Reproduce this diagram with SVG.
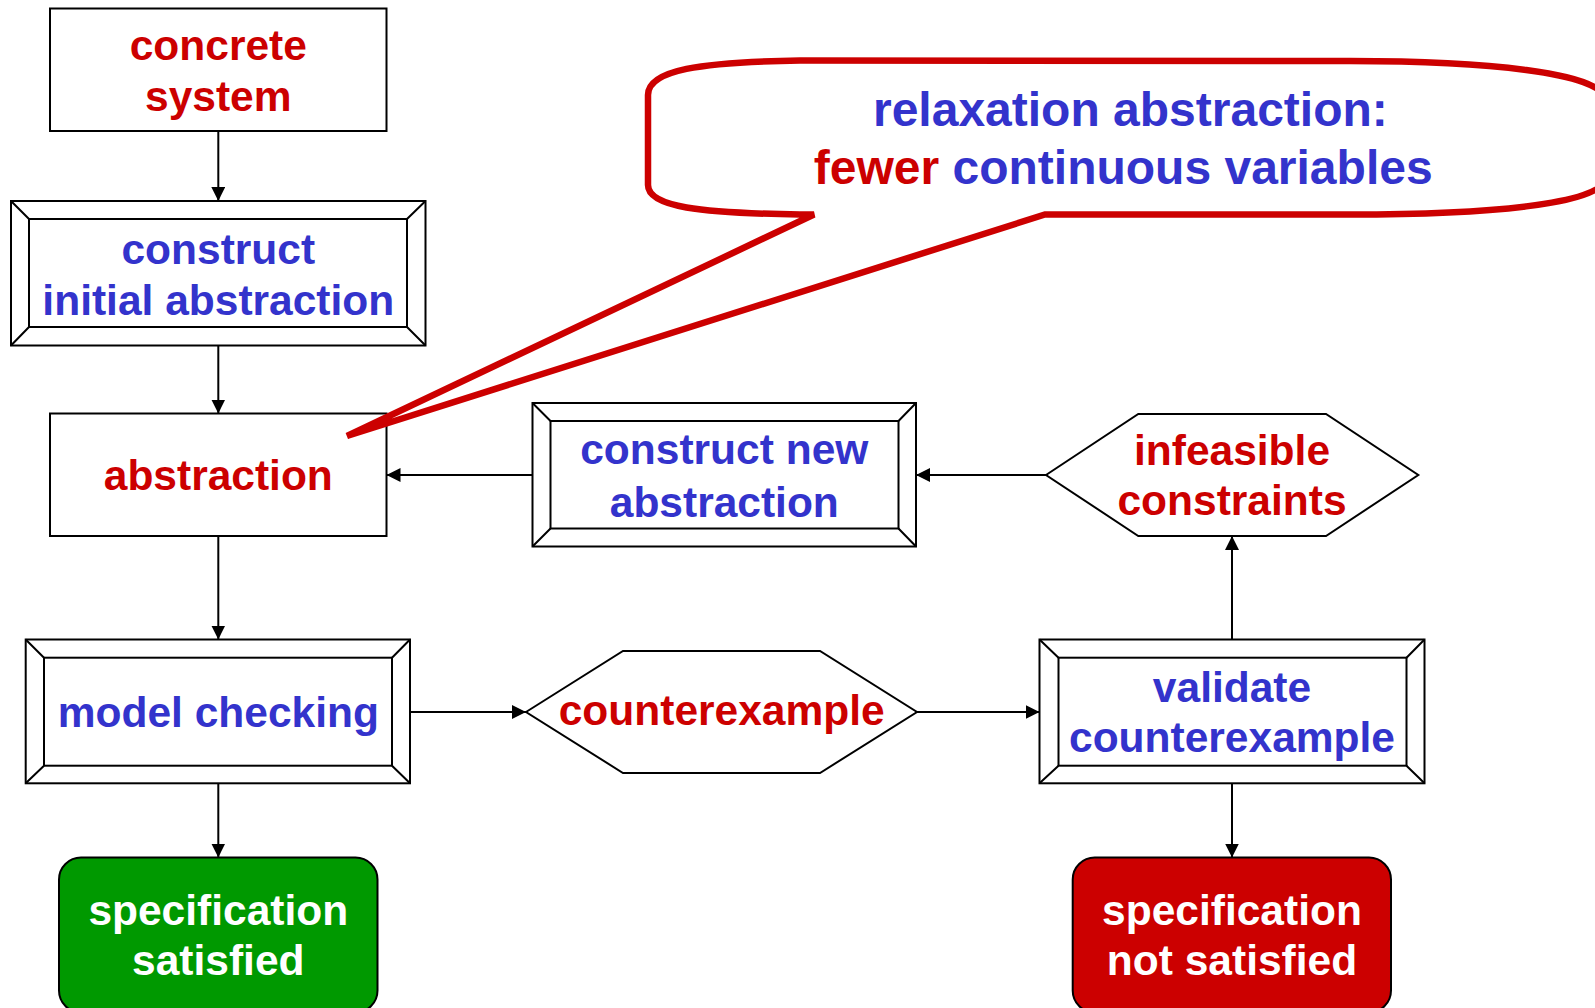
<svg xmlns="http://www.w3.org/2000/svg" width="1595" height="1008" viewBox="0 0 1595 1008">
  <defs>
    <marker id="arrow" viewBox="0 0 14 14" refX="14" refY="7" markerWidth="14" markerHeight="14" markerUnits="userSpaceOnUse" orient="auto">
      <path d="M0,0 L14,7 L0,14 Z" fill="#000"/>
    </marker>
  </defs>
  <style>
    .box { fill: #fff; stroke: #000; stroke-width: 2; }
    .bevel { fill: none; stroke: #000; stroke-width: 2; }
    .edge { fill: none; stroke: #000; stroke-width: 2; marker-end: url(#arrow); }
    .lbl { font-family: "Liberation Sans", Arial, sans-serif; font-weight: bold; font-size: 42.5px; text-anchor: middle; }
    .red { fill: #CC0000; }
    .blue { fill: #3333CC; }
    .white { fill: #fff; }
    .callout { fill: #fff; stroke: #CC0000; stroke-width: 6.5; stroke-linejoin: miter; stroke-miterlimit: 4; }
    .big { font-size: 48px; }
  </style>

  <rect width="1595" height="1008" fill="#fff"/>

  <!-- connectors -->
  <g id="connectors">
    <line class="edge" x1="218.3" y1="131" x2="218.3" y2="201"/>
    <line class="edge" x1="218.3" y1="345.5" x2="218.3" y2="413.5"/>
    <line class="edge" x1="218.3" y1="536" x2="218.3" y2="639.5"/>
    <line class="edge" x1="218.3" y1="783.3" x2="218.3" y2="857.5"/>
    <line class="edge" x1="532.5" y1="475" x2="386.5" y2="475"/>
    <line class="edge" x1="1046" y1="475" x2="916" y2="475"/>
    <line class="edge" x1="410" y1="712" x2="526" y2="712"/>
    <line class="edge" x1="917" y1="712" x2="1039.5" y2="712"/>
    <line class="edge" x1="1232" y1="639.5" x2="1232" y2="536"/>
    <line class="edge" x1="1232" y1="783.3" x2="1232" y2="857.5"/>
  </g>

  <!-- concrete system -->
  <g id="concrete-system">
    <rect class="box" x="50" y="8.5" width="336.5" height="122.5"/>
    <text class="lbl red" x="218.3" y="60">concrete</text>
    <text class="lbl red" x="218.3" y="110.5">system</text>
  </g>

  <!-- construct initial abstraction -->
  <g id="construct-initial">
    <rect class="box" x="11" y="201" width="414.5" height="144.5"/>
    <rect class="bevel" x="29" y="219" width="378" height="108"/>
    <path class="bevel" d="M11,201 L29,219 M425.5,201 L407,219 M11,345.5 L29,327 M425.5,345.5 L407,327"/>
    <text class="lbl blue" x="218.3" y="263.5">construct</text>
    <text class="lbl blue" x="218.3" y="314.5">initial abstraction</text>
  </g>

  <!-- abstraction -->
  <g id="abstraction">
    <rect class="box" x="50" y="413.5" width="336.5" height="122.5"/>
    <text class="lbl red" x="218.3" y="490">abstraction</text>
  </g>

  <!-- construct new abstraction -->
  <g id="construct-new">
    <rect class="box" x="532.5" y="403" width="383.5" height="143.5"/>
    <rect class="bevel" x="550.5" y="421" width="348" height="107.5"/>
    <path class="bevel" d="M532.5,403 L550.5,421 M916,403 L898.5,421 M532.5,546.5 L550.5,528.5 M916,546.5 L898.5,528.5"/>
    <text class="lbl blue" x="724.3" y="464">construct new</text>
    <text class="lbl blue" x="724.3" y="516.5">abstraction</text>
  </g>

  <!-- infeasible constraints -->
  <g id="infeasible-constraints">
    <polygon class="box" points="1046,475 1138.3,414 1326,414 1418.3,475 1326,536 1138.3,536"/>
    <text class="lbl red" x="1232" y="465">infeasible</text>
    <text class="lbl red" x="1232" y="515">constraints</text>
  </g>

  <!-- model checking -->
  <g id="model-checking">
    <rect class="box" x="25.7" y="639.5" width="384.3" height="143.8"/>
    <rect class="bevel" x="44" y="657.7" width="348" height="108"/>
    <path class="bevel" d="M25.7,639.5 L44,657.7 M410,639.5 L392,657.7 M25.7,783.3 L44,765.7 M410,783.3 L392,765.7"/>
    <text class="lbl blue" x="218.3" y="727">model checking</text>
  </g>

  <!-- counterexample -->
  <g id="counterexample">
    <polygon class="box" points="526,712 623,651 820,651 917,712 820,773 623,773"/>
    <text class="lbl red" x="721.7" y="725">counterexample</text>
  </g>

  <!-- validate counterexample -->
  <g id="validate-counterexample">
    <rect class="box" x="1039.5" y="639.5" width="385" height="143.8"/>
    <rect class="bevel" x="1058.5" y="657.7" width="348" height="108"/>
    <path class="bevel" d="M1039.5,639.5 L1058.5,657.7 M1424.5,639.5 L1406.5,657.7 M1039.5,783.3 L1058.5,765.7 M1424.5,783.3 L1406.5,765.7"/>
    <text class="lbl blue" x="1232" y="701.7">validate</text>
    <text class="lbl blue" x="1232" y="751.7">counterexample</text>
  </g>

  <!-- specification satisfied -->
  <g id="spec-satisfied">
    <rect x="59" y="857.5" width="318.5" height="155" rx="22" ry="22" fill="#009900" stroke="#000" stroke-width="2"/>
    <text class="lbl white" x="218.3" y="925">specification</text>
    <text class="lbl white" x="218.3" y="975">satisfied</text>
  </g>

  <!-- specification not satisfied -->
  <g id="spec-not-satisfied">
    <rect x="1072.7" y="857.5" width="318.3" height="155" rx="22" ry="22" fill="#CC0000" stroke="#000" stroke-width="2"/>
    <text class="lbl white" x="1232" y="925">specification</text>
    <text class="lbl white" x="1232" y="975">not satisfied</text>
  </g>

  <!-- callout pointing at the abstraction box -->
  <g id="relaxation-callout">
    <path class="callout" d="M648,95 C648,70 700,62 800,60.5 L1350,61 C1480,61 1605,72 1605,100 L1605,178 C1605,205 1480,214.5 1350,214.5 L1045,214.5 L347,436 L814,214.5 L800,214.5 C700,213 648,207 648,185 Z"/>
    <text class="lbl big blue" x="1130.4" y="126">relaxation abstraction:</text>
    <text class="lbl big" x="1123.2" y="184"><tspan class="red">fewer</tspan><tspan class="blue"> continuous variables</tspan></text>
  </g>
</svg>
